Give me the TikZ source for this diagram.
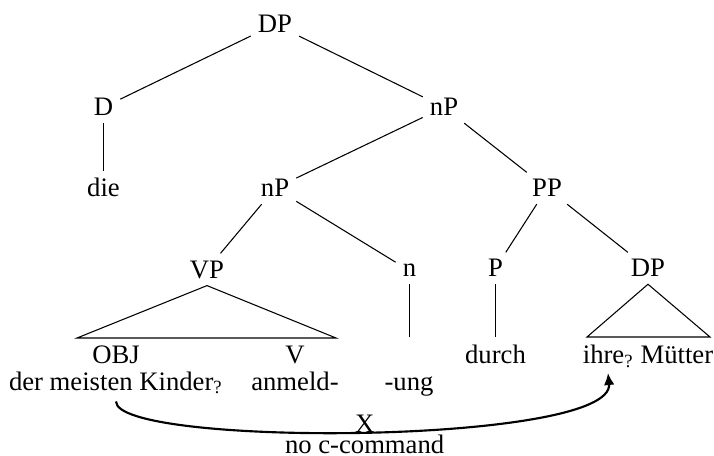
\documentclass[tikz,border=0pt]{standalone}
\usepackage{fontspec}
\setmainfont{Liberation Serif}
\usetikzlibrary{arrows.meta}

\begin{document}
\begin{tikzpicture}[x=0.375pt,y=-0.375pt,thin]
    \tikzstyle{cat}=[inner sep=2.5pt,anchor=base,text=black]
    \tikzstyle{roof}=[draw,line join=miter]
    \tikzstyle{cmd}=[-{Latex[length=4.5pt,width=4pt]},line width=0.8pt]
    \tikzstyle{note}=[inner sep=0pt,anchor=base,text=black]

    \useasboundingbox (0,0) rectangle (714,456);

    \node[cat] (DP)   at (275,33)  {DP};
    \node[cat] (D)    at (103.5,116) {D};
    \node[cat] (nPa)  at (444,116) {nP};
    \node[cat] (die)  at (103.5,197) {die};
    \node[cat] (nPb)  at (275,197) {nP};
    \node[cat] (PP)   at (547,197) {PP};
    \node[cat] (VP)   at (207,278) {VP};
    \node[cat] (n)    at (409.5,277) {n};
    \node[cat] (P)    at (495.5,277) {P};
    \node[cat] (DPb)  at (648,277) {DP};

    \node[cat] (obj)     at (116,363) {OBJ};
    \node[cat] (v)       at (295,363) {V};
    \node[cat] (kinder)  at (116,390) {der meisten Kinder\textsubscript{?}};
    \node[cat] (anmeld)  at (295,390) {anmeld-};
    \node[cat] (ung)     at (409,390) {-ung};
    \node[cat] (durch)   at (495.5,363) {durch};
    \node[cat] (muetter) at (648,363) {ihre\textsubscript{?} Mütter};

    \coordinate (vpl) at (77,338);
    \coordinate (vpr) at (336,338);
    \coordinate (dpl) at (587,337);
    \coordinate (dpr) at (710,337);
    \coordinate (ihre) at (608,373);

    \path
     (DP) edge (D)
     (DP) edge (nPa)
     (D) edge (die)
     (nPa) edge (nPb)
     (nPa) edge (PP)
     (nPb) edge (VP)
     (nPb) edge (n)
     (PP) edge (P)
     (PP) edge (DPb)
     (P) edge (durch)
     (n) edge (n |- durch.north);

    \path[roof] (VP.south) -- (vpl) -- (vpr) -- cycle;
    \path[roof] (DPb.south) -- (dpl) -- (dpr) -- cycle;

    % no c-command from OBJ into the PP
    \draw[cmd] (kinder.south) .. controls +(0,46) and +(7,72) .. (ihre)
      node[note,midway,yshift=-0.3pt] {X}
      node[note,midway,yshift=-8.1pt] {no c-command};
\end{tikzpicture}
\end{document}
